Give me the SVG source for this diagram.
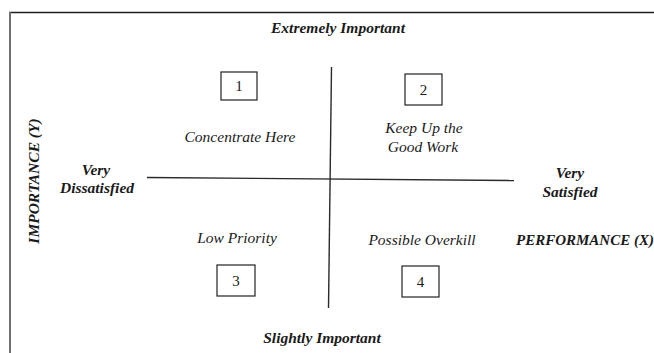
<svg xmlns="http://www.w3.org/2000/svg" width="654" height="353" viewBox="0 0 654 353">
<style>
text{font-family:"Liberation Serif","DejaVu Serif",serif;fill:#1a1a1a;text-anchor:middle}
.bi{font-weight:bold;font-style:italic;font-size:15.5px}
.it{font-style:italic;font-size:15.5px}
.num{font-size:15px}
.box{fill:none;stroke:#222;stroke-width:1.2}
.axis{stroke:#2a2a2a;stroke-width:1.4;fill:none}
</style>
<rect width="654" height="353" fill="#fff"/>
<g id="frame">
<line x1="9" y1="12.5" x2="654" y2="12.5" stroke="#1e1e1e" stroke-width="1.5"/>
<line x1="10" y1="12" x2="10" y2="353" stroke="#6e6e6e" stroke-width="2"/>
</g>
<g id="connectors">
<line class="axis" x1="331.5" y1="67" x2="328.5" y2="308"/>
<line class="axis" x1="147" y1="177.5" x2="514" y2="180.5"/>
</g>
<g id="top-label"><text class="bi" x="338" y="33">Extremely Important</text></g>
<g id="bottom-label"><text class="bi" x="322" y="343">Slightly Important</text></g>
<g id="y-axis-label"><text class="bi" transform="translate(39,181) rotate(-90)" font-size="15">IMPORTANCE (Y)</text></g>
<g id="x-axis-label"><text class="bi" x="585" y="245" style="font-size:15px">PERFORMANCE (X)</text></g>
<g id="left-label"><text class="bi" x="96" y="175">Very</text><text class="bi" x="97" y="193">Dissatisfied</text></g>
<g id="right-label"><text class="bi" x="570" y="178">Very</text><text class="bi" x="570" y="197">Satisfied</text></g>
<g id="q1">
<rect class="box" x="221" y="72" width="36" height="28"/>
<text class="num" x="239" y="91">1</text>
<text class="it" x="240" y="142">Concentrate Here</text>
</g>
<g id="q2">
<rect class="box" x="405" y="74" width="37" height="31"/>
<text class="num" x="423.5" y="95">2</text>
<text class="it" x="424" y="133">Keep Up the</text>
<text class="it" x="423" y="152">Good Work</text>
</g>
<g id="q3">
<rect class="box" x="217" y="265" width="38" height="31"/>
<text class="num" x="236" y="286">3</text>
<text class="it" x="237" y="243">Low Priority</text>
</g>
<g id="q4">
<rect class="box" x="402" y="266" width="37" height="31"/>
<text class="num" x="420.5" y="287">4</text>
<text class="it" x="422" y="245">Possible Overkill</text>
</g>
</svg>
